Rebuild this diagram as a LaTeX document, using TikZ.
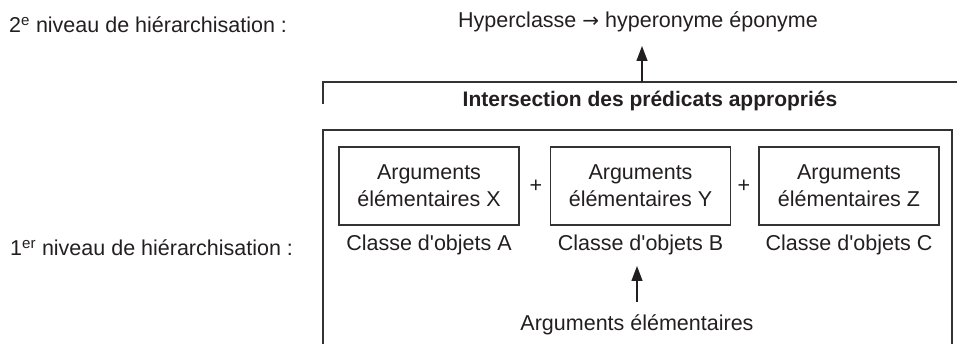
\documentclass[tikz,border=0pt]{standalone}
\usepackage{fontspec}
\setmainfont{Liberation Sans}
\usetikzlibrary{arrows.meta}
\definecolor{ink}{HTML}{231F20}
\definecolor{rule}{HTML}{333333}
\begin{document}
\begin{tikzpicture}[x=1pt,y=-1pt,
  every node/.style={font=\fontsize{21.5}{25}\selectfont, text=ink, inner sep=0pt},
  argbox/.style={draw=rule, line width=1.3pt, minimum width=180pt, minimum height=78pt, align=center, font=\fontsize{21.5}{27}\selectfont},
  frame/.style={draw=rule, line width=1.5pt},
  upar/.style={draw=ink, line width=1.3pt, -{Triangle[length=15pt,width=11pt]}}
]
\useasboundingbox (0,0) rectangle (957,344);
% left labels
\node[anchor=west] (lvl2) at (9,25) {2\textsuperscript{e} niveau de hiérarchisation :};
\node[anchor=west] (lvl1) at (10,248) {1\textsuperscript{er} niveau de hiérarchisation :};
% top
\node (hyp) at (638,22) {Hyperclasse {\fontspec{DejaVu Sans}\fontsize{20}{24}\selectfont →} hyperonyme éponyme};
\draw[frame] (323,104) -- (323,82) -- (957,82);
\coordinate (b1) at (642,82);
\coordinate (t1) at (642,46);
\draw[upar] (b1) -- (t1);
\node[font=\fontsize{21}{24}\selectfont\bfseries] (inter) at (650,101) {Intersection des prédicats appropriés};
% outer box
\draw[frame] (323,344) -- (323,130) -- (952,130) -- (952,344);
% inner boxes
\node[argbox] (X) at (429,186) {Arguments\\élémentaires X};
\node[argbox] (Y) at (640.5,186) {Arguments\\élémentaires Y};
\node[argbox] (Z) at (849,186) {Arguments\\élémentaires Z};
\node (p1) at (536,186) {+};
\node (p2) at (744,186) {+};
\node (cA) at (429,245) {Classe d\textquotesingle objets A};
\node (cB) at (640.5,245) {Classe d\textquotesingle objets B};
\node (cC) at (849,245) {Classe d\textquotesingle objets C};
\node (arg) at (637,325) {Arguments élémentaires};
\coordinate (a1) at (637,302);
\coordinate (a2) at (637,266);
\draw[upar] (a1) -- (a2);
\end{tikzpicture}
\end{document}
